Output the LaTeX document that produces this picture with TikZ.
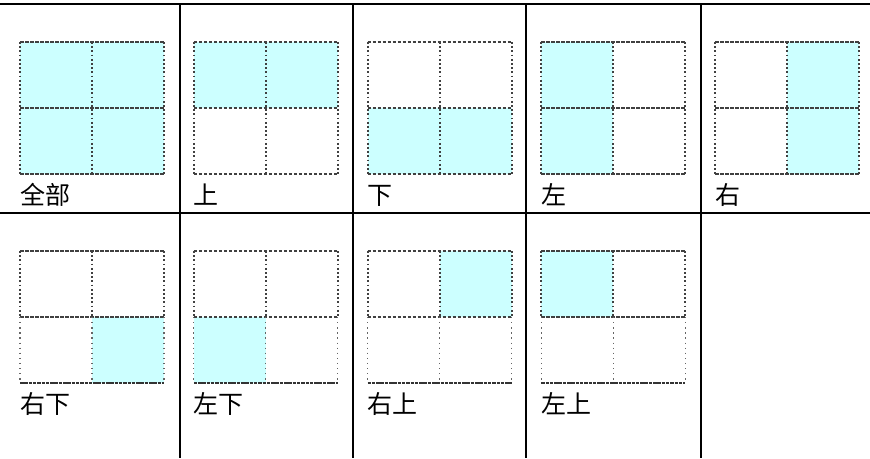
\documentclass[tikz,border=0pt]{standalone}
\usepackage{fontspec}
\newfontfamily\cjk{Noto Sans CJK SC}
\definecolor{pale}{HTML}{CCFFFF}
\tikzset{
  rule/.style={line width=2.6pt, draw=black},
  hdash/.style={line width=1.4pt, draw=black!75, dash pattern=on 3.5pt off 1.5pt},
  vdot/.style={line width=2pt, draw=black!75, dash pattern=on 1.8pt off 2.4pt},
  vdotlight/.style={line width=1.1pt, draw=black!60, dash pattern=on 1.3pt off 3.8pt},
  hdashthick/.style={line width=2.6pt, draw=black!80, dash pattern=on 3.5pt off 0.8pt},
  panellabel/.style={font=\cjk\fontsize{25}{30}\selectfont, anchor=base west, inner sep=0pt},
}
\begin{document}
\begin{tikzpicture}[x=1pt, y=-1pt]
    \useasboundingbox (0,0) rectangle (870,458);
    % table rules
    \draw[rule] (0,4) -- (870,4);
    \draw[rule] (0,213) -- (870,213);
    \foreach \vx in {180,353,526,701}
      \draw[rule] (\vx,4) -- (\vx,458);
    % panels: column/row/label/filled quarters
    \foreach \c/\r/\txt/\cells in {
        1/1/全部/{0/0,1/0,0/1,1/1}, 2/1/上/{0/0,1/0}, 3/1/下/{0/1,1/1},
        4/1/左/{0/0,0/1}, 5/1/右/{1/0,1/1},
        1/2/右下/{1/1}, 2/2/左下/{0/1}, 3/2/右上/{1/0}, 4/2/左上/{0/0}} {
      \pgfmathsetmacro\px{20+173.75*(\c-1)}
      \pgfmathsetmacro\py{42+209*(\r-1)}
      \foreach \qx/\qy in \cells
        \fill[pale] (\px+72*\qx,\py+66*\qy) rectangle ++(72,66);
      \draw[hdash] (\px,\py) -- ++(144,0);
      \draw[hdash] (\px,\py+66) -- ++(144,0);
      \ifnum\r=1
        \draw[hdash] (\px,\py+132) -- ++(144,0);
        \foreach \k in {0,1,2}
          \draw[vdot] (\px+72*\k,\py) -- ++(0,132);
      \else
        \foreach \k in {0,1,2} {
          \draw[vdot] (\px+72*\k,\py) -- ++(0,66);
          \draw[vdotlight] (\px+72*\k,\py+66) -- ++(0,66);
        }
        \draw[hdashthick] (\px,\py+132) -- ++(144,0);
      \fi
      \node[panellabel] (lab-\c-\r) at (\px,\py+162) {\txt};
    }
\end{tikzpicture}
\end{document}
